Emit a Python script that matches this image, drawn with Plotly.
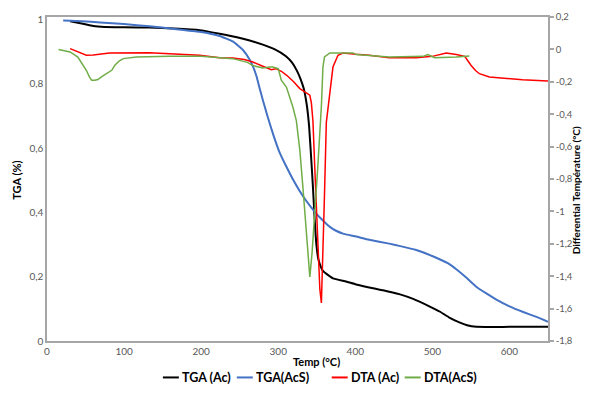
import plotly.graph_objects as go

# TGA (Ac)
tga_ac_T = [30, 45, 60, 75, 100, 133, 165, 198, 224, 245, 263, 280, 295, 310, 318, 324, 329, 333, 337, 340, 343, 345, 347, 349.5, 352, 355, 358, 363, 371, 388, 401, 423, 436, 458, 475, 496, 510, 522, 535, 545, 557, 600, 650]
tga_ac_v = [0.995, 0.988, 0.98, 0.977, 0.976, 0.975, 0.972, 0.967, 0.956, 0.946, 0.935, 0.922, 0.908, 0.886, 0.866, 0.842, 0.815, 0.786, 0.735, 0.67, 0.56, 0.48, 0.39, 0.30, 0.255, 0.232, 0.218, 0.208, 0.195, 0.185, 0.176, 0.164, 0.158, 0.145, 0.131, 0.108, 0.091, 0.073, 0.058, 0.049, 0.044, 0.044, 0.044]

# TGA (AcS)
tga_acs_T = [21, 45, 69, 100, 133, 165, 198, 224, 241, 254, 263, 268, 272, 276, 280, 286, 293, 302, 310, 319, 328, 336, 343, 349, 358, 367, 375, 384, 401, 418, 444, 457, 479, 505, 520, 531, 545, 557, 570, 583, 600, 617, 635, 650]
tga_acs_v = [0.997, 0.995, 0.991, 0.986, 0.979, 0.971, 0.962, 0.949, 0.932, 0.906, 0.875, 0.85, 0.822, 0.785, 0.75, 0.70, 0.646, 0.585, 0.545, 0.503, 0.466, 0.437, 0.415, 0.397, 0.375, 0.355, 0.343, 0.334, 0.325, 0.315, 0.303, 0.296, 0.283, 0.259, 0.242, 0.223, 0.195, 0.169, 0.148, 0.129, 0.108, 0.091, 0.075, 0.06]

# DTA (Ac)
dta_ac_T = [30, 40, 51, 60, 81, 133, 170, 198, 224, 241, 256, 267, 280, 291, 297, 304, 311, 320, 328, 336, 341, 343, 345, 348, 351.5, 354, 356, 358, 360, 362.4, 366.7, 371, 377.5, 384, 401, 418, 444, 479, 500, 510, 518, 531, 542, 546, 550, 556, 561, 574, 595, 617, 650]
dta_ac_v = [0.005, -0.015, -0.036, -0.034, -0.022, -0.02, -0.027, -0.036, -0.051, -0.053, -0.062, -0.078, -0.104, -0.125, -0.119, -0.135, -0.16, -0.2, -0.242, -0.27, -0.283, -0.33, -0.44, -0.8, -1.26, -1.48, -1.565, -1.27, -0.9, -0.45, -0.273, -0.109, -0.036, -0.022, -0.03, -0.036, -0.051, -0.051, -0.043, -0.03, -0.022, -0.032, -0.043, -0.07, -0.098, -0.13, -0.15, -0.17, -0.18, -0.187, -0.195]

# DTA (AcS)
dta_acs_T = [15, 30, 40, 46, 51, 55, 58, 62, 66, 72, 77, 84, 88, 94, 99, 116, 159, 200, 241, 260, 267, 280, 289, 293, 300, 304, 310.6, 319, 323.5, 328, 332, 336, 339, 341, 344, 347, 351, 356, 358, 360, 367, 397, 401, 444, 488, 494, 503, 531, 548]
dta_acs_v = [0.0, -0.016, -0.047, -0.09, -0.129, -0.17, -0.19, -0.19, -0.186, -0.165, -0.149, -0.129, -0.098, -0.07, -0.057, -0.047, -0.043, -0.043, -0.057, -0.08, -0.1, -0.114, -0.109, -0.109, -0.119, -0.19, -0.232, -0.356, -0.44, -0.62, -0.849, -1.1, -1.3, -1.405, -1.25, -1.055, -0.75, -0.35, -0.109, -0.047, -0.022, -0.022, -0.032, -0.047, -0.043, -0.032, -0.051, -0.047, -0.041]

x_ticks = [0, 100, 200, 300, 400, 500, 600]
y_left_ticks = [0, 0.2, 0.4, 0.6, 0.8, 1]
y_left_labels = ["0", "0,2", "0,4", "0,6", "0,8", "1"]
y_right_ticks = [0.2, 0, -0.2, -0.4, -0.6, -0.8, -1, -1.2, -1.4, -1.6, -1.8]
y_right_labels = ["0,2", "0", "-0,2", "-0,4", "-0,6", "-0,8", "-1", "-1,2", "-1,4", "-1,6", "-1,8"]

series_names = ["TGA (Ac)", "TGA(AcS)", "DTA (Ac)", "DTA(AcS)"]
series_colors = ["#000000", "#4472C4", "#FF0000", "#70AD47"]

FONT = "Lato, 'Open Sans', sans-serif"
AX = "#A6A6A6"
TICKC = "#595959"

OFF = 8  # page body margin offsets the figure
W, H = 590 - 2 * OFF, 393 - 2 * OFF  # avoid page scrollbars
# screen-pixel plot area
SL, SR, ST, SB = 47, 548.5, 17, 341.5
ML, MT = SL - OFF, ST - OFF
MR = W - (SR - OFF)
MB = H - (SB - OFF)
PW, PH = W - ML - MR, H - MT - MB


def px_x(p):
    return (p - OFF - ML) / PW


def px_y(p):
    return (H - MB - (p - OFF)) / PH


fig = go.Figure()
fig.add_trace(go.Scatter(x=tga_ac_T, y=tga_ac_v, name=series_names[0], mode="lines",
                         line=dict(color=series_colors[0], width=2, shape="spline", smoothing=0.4), yaxis="y"))
fig.add_trace(go.Scatter(x=tga_acs_T, y=tga_acs_v, name=series_names[1], mode="lines",
                         line=dict(color=series_colors[1], width=2, shape="spline", smoothing=0.4), yaxis="y"))
fig.add_trace(go.Scatter(x=dta_ac_T, y=dta_ac_v, name=series_names[2], mode="lines",
                         line=dict(color=series_colors[2], width=1.5), yaxis="y2"))
fig.add_trace(go.Scatter(x=dta_acs_T, y=dta_acs_v, name=series_names[3], mode="lines",
                         line=dict(color=series_colors[3], width=1.5), yaxis="y2"))

# manual legend (Excel-style compact)
leg_starts = [163, 237, 332, 405]
leg_y = px_y(378)
shapes = []
annotations = []
for name, col, x0 in zip(series_names, series_colors, leg_starts):
    shapes.append(dict(type="line", xref="paper", yref="paper", x0=px_x(x0), x1=px_x(x0 + 16),
                       y0=leg_y, y1=leg_y, line=dict(color=col, width=2)))
    annotations.append(dict(text=name, x=px_x(x0 + 17), y=leg_y, xref="paper", yref="paper",
                            xanchor="left", yanchor="middle", showarrow=False,
                            font=dict(size=12.5, color="#000000", family=FONT, weight="bold")))

annotations.append(dict(text="Temp (°C)", x=px_x(317), y=px_y(362), xref="paper", yref="paper",
                        xanchor="center", yanchor="middle", showarrow=False,
                        font=dict(size=11, color="#000000", family=FONT, weight="bold")))
annotations.append(dict(text="TGA (%)", x=px_x(17), y=px_y(181), xref="paper", yref="paper",
                        xanchor="center", yanchor="middle", showarrow=False, textangle=-90,
                        font=dict(size=11, color="#000000", family=FONT, weight="bold")))
annotations.append(dict(text="Differential Température (°C)", x=px_x(576), y=px_y(190), xref="paper", yref="paper",
                        xanchor="center", yanchor="middle", showarrow=False, textangle=-90,
                        font=dict(size=10, color="#000000", family=FONT, weight="bold")))

fig.update_layout(
    width=W, height=H,
    margin=dict(l=ML, r=MR, t=MT, b=MB, autoexpand=False),
    paper_bgcolor="white", plot_bgcolor="white",
    font=dict(family=FONT, size=10, color=TICKC),
    showlegend=False,
    xaxis=dict(range=[0, 650], tickvals=x_ticks, showline=True, linecolor=AX, linewidth=1.5,
               mirror=True, showgrid=False, zeroline=False, ticks="", automargin=False,
               tickfont=dict(size=10, color=TICKC)),
    yaxis=dict(range=[0, 1.008], tickvals=y_left_ticks, ticktext=y_left_labels, showline=True,
               linecolor=AX, linewidth=1.5, showgrid=False, zeroline=False, ticks="", automargin=False,
               tickfont=dict(size=10, color=TICKC)),
    yaxis2=dict(range=[-1.8, 0.2], tickvals=y_right_ticks, ticktext=y_right_labels, overlaying="y",
                side="right", showline=True, linecolor=AX, linewidth=1.5, showgrid=False, zeroline=False,
                ticks="outside", ticklen=4, tickcolor=AX, tickwidth=1.5, automargin=False,
                tickfont=dict(size=9.5, color=TICKC)),
    shapes=shapes,
    annotations=annotations,
)

fig.write_html("out.html")
